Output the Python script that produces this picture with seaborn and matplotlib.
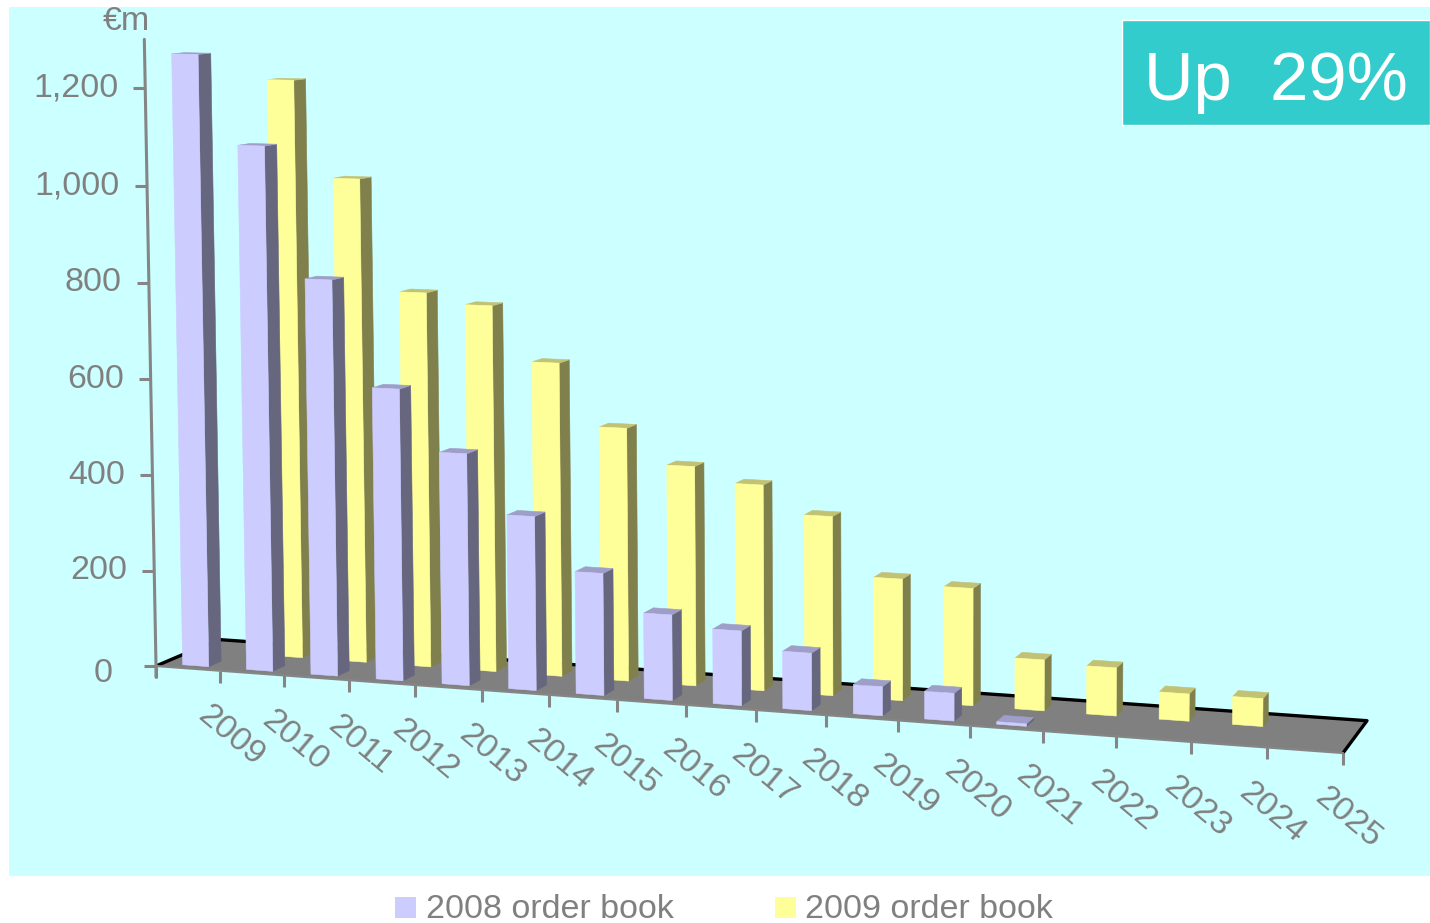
import numpy as np
import matplotlib
matplotlib.use("Agg")
import matplotlib.pyplot as plt
from matplotlib.patches import Polygon, Rectangle
import seaborn as sns

# Order book run-off by delivery year, in euro millions
years = [str(y) for y in range(2009, 2026)]
book_2008 = [1270, 1086, 817, 600, 475, 355, 248, 173, 150, 115, 58, 55, 5]
book_2009 = [0, 1213, 1012, 781, 760, 648, 521, 450, 420, 364, 246, 236, 102, 96, 54, 55]
value_ticks = [0, 200, 400, 600, 800, 1000, 1200]
series_names = ["2008 order book", "2009 order book"]
badge_text = "Up  29%"
unit_text = "€m"

# Canvas and perspective of the chart floor
WIDTH, HEIGHT = 1430, 923
FLOOR = {"fl": (156, 666), "fr": (1343, 753), "br": (1367, 720.7), "bl": (218, 639.5)}
Z_VANISH = (945, 43000)
Z_SCALE = 0.475
AXIS_TOP = 1300

# Bar footprint inside a category slot and inside the floor depth
SLOT = (0.32, 0.73)
DEPTH_2008 = (0.10, 0.30)
DEPTH_2009 = (0.60, 0.80)

sns.set_theme(style="white", rc={"font.family": ["Liberation Sans", "DejaVu Sans"]})
front_cols = sns.color_palette(["#CCCCFF", "#FFFF99"])
side_cols = sns.color_palette(["#66667F", "#80804D"])
top_cols = sns.color_palette(["#9E9EC9", "#C2C274"])
GREY = "#858585"
TEXT = "#808080"


def build_projection(corners):
    (x0, y0), (x1, y1), (x2, y2), (x3, y3) = corners["fl"], corners["fr"], corners["br"], corners["bl"]
    sx, sy = x0 - x1 + x2 - x3, y0 - y1 + y2 - y3
    dx1, dx2, dy1, dy2 = x1 - x2, x3 - x2, y1 - y2, y3 - y2
    den = dx1 * dy2 - dx2 * dy1
    g = (sx * dy2 - dx2 * sy) / den
    h = (dx1 * sy - sx * dy1) / den
    a, b = x1 - x0 + g * x1, x3 - x0 + h * x3
    d, e = y1 - y0 + g * y1, y3 - y0 + h * y3
    i = -Z_SCALE / (Z_VANISH[1] - y0)
    c, f = Z_VANISH[0] * i, Z_VANISH[1] * i

    def project(slot, depth, z=0.0):
        s = slot / len(years)
        w = g * s + h * depth + i * z + 1
        return (a * s + b * depth + c * z + x0) / w, (d * s + e * depth + f * z + y0) / w

    return project


project = build_projection(FLOOR)

fig = plt.figure(figsize=(WIDTH / 100, HEIGHT / 100), dpi=100, facecolor="white")
ax = fig.add_axes([0, 0, 1, 1])
ax.set_xlim(0, WIDTH)
ax.set_ylim(HEIGHT, 0)
ax.axis("off")

ax.add_patch(Rectangle((9, 7), 1421, 869, facecolor="#CCFFFF", edgecolor="none", zorder=0))

# Floor: black back and side edges, grey front edge
n = len(years)
floor = [project(0, 0), project(n, 0), project(n, 1), project(0, 1)]
ax.add_patch(Polygon(floor, closed=True, facecolor="#808080", edgecolor="none", zorder=1))
edge = np.array([project(0, 0), project(0, 1), project(n, 1), project(n, 0)])
ax.plot(edge[:, 0], edge[:, 1], color="black", lw=2.4, solid_capstyle="round", zorder=1.5)
front = np.array([project(0, 0), project(n, 0)])
ax.plot(front[:, 0], front[:, 1], color=GREY, lw=1.6, zorder=1.6)

# Category ticks and slanted year labels
for k in range(n + 1):
    x, y = project(k, 0)
    ax.plot([x, x], [y, y + 12], color=GREY, lw=2.2, solid_capstyle="butt", zorder=1.6)
for k, year in enumerate(years):
    x, y = project(k + 1, 0)
    ax.text(x + 11 - 6 * k / (n - 1), y + 65, year, rotation=-40, ha="center", va="center",
            fontsize=24.5, color=TEXT, zorder=6)

# Value axis with its ticks and labels
base, top = project(0, 0), project(0, 0, AXIS_TOP)
ax.plot([top[0], base[0], base[0]], [top[1], base[1], base[1] + 11], color=GREY, lw=2.2, zorder=6)
for value in value_ticks:
    x, y = project(0, 0, value)
    ax.plot([x - 12, x], [y, y], color=GREY, lw=2.2, solid_capstyle="butt", zorder=6)
    is_zero = value == 0
    ax.text(x - (43 if is_zero else 27), y + (8 if is_zero else 0), f"{value:,}", ha="right",
            va="center", fontsize=24.5, color=TEXT, zorder=6)
ax.text(126, 21, unit_text, ha="center", va="center", fontsize=24.5, color=TEXT, zorder=6)


def draw_bar(slot, value, depth, idx, zorder):
    """Draw one box: top and side faces first, then the front face."""
    u0, u1 = slot + SLOT[0], slot + SLOT[1]
    v0, v1 = depth
    faces = [
        ([project(u1, v0), project(u1, v1), project(u1, v1, value), project(u1, v0, value)], side_cols[idx]),
        ([project(u0, v0, value), project(u1, v0, value), project(u1, v1, value), project(u0, v1, value)], top_cols[idx]),
        ([project(u0, v0), project(u1, v0), project(u1, v0, value), project(u0, v0, value)], front_cols[idx]),
    ]
    for pts, col in faces:
        ax.add_patch(Polygon(pts, closed=True, facecolor=col, edgecolor=col, lw=0.4, zorder=zorder))


for k, value in enumerate(book_2009):
    if value > 0:
        draw_bar(k, value, DEPTH_2009, 1, 2 + k * 0.01)
for k, value in enumerate(book_2008):
    draw_bar(k, value, DEPTH_2008, 0, 3 + k * 0.01)

# Legend row along the bottom edge
for idx, (box_x, text_x) in enumerate([(395, 426), (775, 805)]):
    ax.add_patch(Rectangle((box_x, 897), 21, 21, facecolor=front_cols[idx], edgecolor="none", zorder=6))
    ax.text(text_x, 918, series_names[idx], ha="left", va="baseline", fontsize=24.5, color=TEXT, zorder=6)

# Headline badge
ax.add_patch(Rectangle((1122, 19.5), 308, 105, facecolor="#33CCCC", edgecolor="white", lw=1, zorder=7))
ax.text(1276, 100, badge_text, ha="center", va="baseline", fontsize=49.5, color="white", zorder=8)

fig.savefig("out.png", dpi=100, facecolor="white")
